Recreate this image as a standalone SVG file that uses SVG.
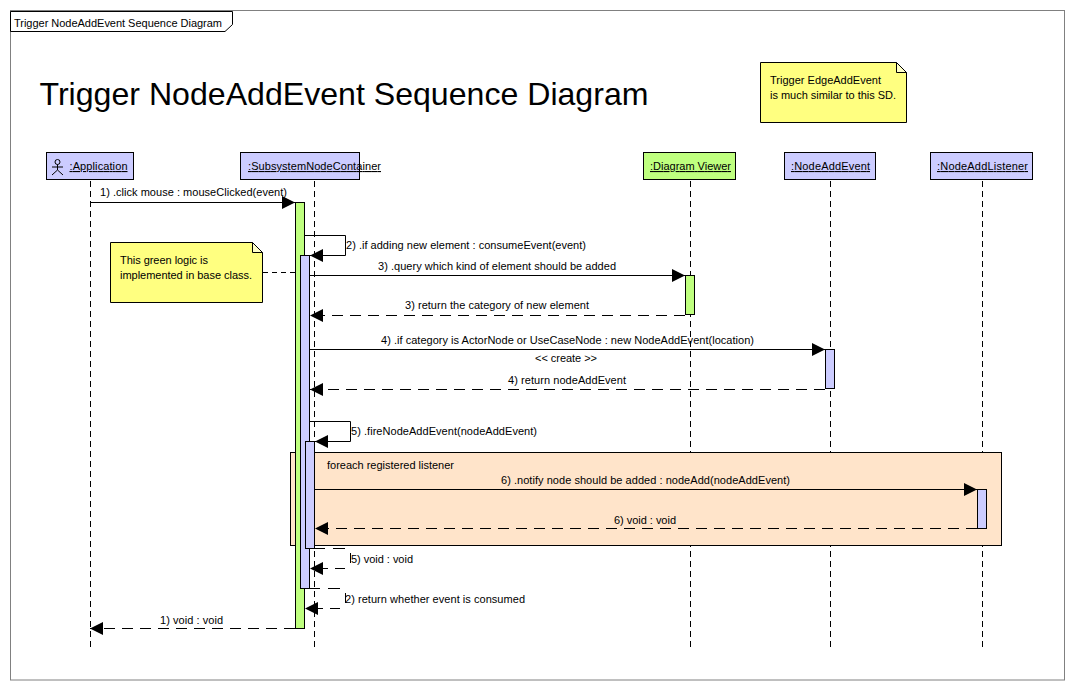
<svg xmlns="http://www.w3.org/2000/svg" width="1074" height="689" viewBox="0 0 1074 689">
<style>
text{font-family:"Liberation Sans",Arial,sans-serif;font-size:11px;fill:#000}
.u{text-decoration:underline}
.box{stroke:#000;stroke-width:1}
.blue{fill:#ccccff}
.green{fill:#bfff7f}
.note{fill:#ffff80;stroke:#000}
.fold{fill:#ffffc8;stroke:#000}
.life{stroke:#000;fill:none;stroke-dasharray:6 4}
.m{stroke:#000;fill:none}
.d{stroke:#000;fill:none;stroke-dasharray:11 7}
.a{fill:#000;stroke:none}
</style>
<defs>
<polygon id="ar" class="a" points="0,0 -13,-6.5 -13,6.5"/>
<polygon id="al" class="a" points="0,0 13,-6.5 13,6.5"/>
</defs>
<rect width="1074" height="689" fill="#fff"/>
<g id="frame">
<rect x="10.5" y="10.5" width="1054" height="669.5" fill="#fff" stroke="#808080"/>
<path d="M10.5 11.5H232.5V24.5L225 31.5H10.5Z" fill="#fff" stroke="#000"/>
<text x="14" y="27" textLength="208">Trigger NodeAddEvent Sequence Diagram</text>
</g>
<text id="title" x="39.5" y="105" style="font-size:32px" textLength="609" lengthAdjust="spacingAndGlyphs">Trigger NodeAddEvent Sequence Diagram</text>
<g id="lifelines">
<path class="life" d="M90.5 181V648"/>
<path class="life" d="M314.5 181V648"/>
<path class="life" d="M690.5 181V648"/>
<path class="life" d="M830.5 181V648"/>
<path class="life" d="M982.5 181V648"/>
</g>
<g id="fragment-foreach">
<rect x="290.5" y="452.5" width="711" height="93" fill="#ffe4ca" stroke="#000"/>
<text x="327" y="469" textLength="127">foreach registered listener</text>
</g>
<g id="activations">
<rect class="box green" x="295.5" y="202.5" width="9" height="426"/>
<rect class="box blue" x="300.5" y="255.5" width="9" height="333"/>
<rect class="box blue" x="305.5" y="441.5" width="9" height="107"/>
<rect class="box green" x="685.5" y="275.5" width="9" height="39"/>
<rect class="box blue" x="825.5" y="349.5" width="9" height="39"/>
<rect class="box blue" x="977.5" y="489.5" width="9" height="39"/>
</g>
<g id="application">
<rect class="box blue" x="46.5" y="152.5" width="87" height="27"/>
<g stroke="#000" fill="none"><circle cx="57.5" cy="162" r="2.5"/><path d="M57.5 164.5V170M52 167H63M57.5 170L52 175M57.5 170L63 175"/></g>
<text class="u" x="69.5" y="170" textLength="58">:Application</text>
</g>
<g id="subsystem-node-container">
<rect class="box blue" x="240.5" y="152.5" width="119" height="27"/>
<text class="u" x="248" y="170" textLength="133">:SubsystemNodeContainer</text>
</g>
<g id="diagram-viewer">
<rect class="box green" x="643.5" y="152.5" width="92" height="27"/>
<text class="u" x="650" y="170" textLength="81">:Diagram Viewer</text>
</g>
<g id="node-add-event">
<rect class="box blue" x="784.5" y="152.5" width="91" height="27"/>
<text class="u" x="791" y="170" textLength="79">:NodeAddEvent</text>
</g>
<g id="node-add-listener">
<rect class="box blue" x="930.5" y="152.5" width="102" height="27"/>
<text class="u" x="937" y="170" textLength="91">:NodeAddListener</text>
</g>
<g id="note-green">
<path class="note" d="M110.5 242.5H252.5L262.5 252.5V302.5H110.5Z"/>
<path class="fold" d="M252.5 242.5L262.5 252.5H252.5Z"/>
<text x="120" y="264" textLength="88">This green logic is</text>
<text x="120" y="279" textLength="132">implemented in base class.</text>
</g>
<g id="note-edge">
<path class="note" d="M760.5 62.5H896.5L906.5 72.5V122.5H760.5Z"/>
<path class="fold" d="M896.5 62.5L906.5 72.5H896.5Z"/>
<text x="770" y="84" textLength="111">Trigger EdgeAddEvent</text>
<text x="770" y="99" textLength="126">is much similar to this SD.</text>
</g>
<g id="connectors">
<path class="m" style="stroke-dasharray:5 4" d="M263 272.5H295"/>
<path class="m" d="M90.5 202.5H295"/><use href="#ar" x="295" y="202.5"/>
<path class="m" d="M305 235.5H345.5V255.5H310"/><use href="#al" x="310" y="255.5"/>
<path class="m" d="M310 275.5H685"/><use href="#ar" x="685" y="275.5"/>
<path class="d" d="M685 315.5H310"/><use href="#al" x="310" y="315.5"/>
<path class="m" d="M310 349.5H825"/><use href="#ar" x="825" y="349.5"/>
<path class="d" d="M825 389.5H310"/><use href="#al" x="310" y="389.5"/>
<path class="m" d="M310 421.5H350.5V441.5H315"/><use href="#al" x="315" y="441.5"/>
<path class="m" d="M315 489.5H977"/><use href="#ar" x="977" y="489.5"/>
<path class="d" d="M977 528.5H315"/><use href="#al" x="315" y="528.5"/>
<path class="m" d="M315 548.5H325M333 548.5H345M350.5 553V563M345 568.5H335M328 568.5H312"/><use href="#al" x="310" y="568.5"/>
<path class="m" d="M310 588.5H320M328 588.5H340M345.5 593V603M340 608.5H330M323 608.5H307"/><use href="#al" x="305" y="608.5"/>
<path class="d" d="M295 628.5H90"/><use href="#al" x="90" y="628.5"/>
</g>
<g id="labels">
<text x="100" y="196" textLength="187">1) .click mouse : mouseClicked(event)</text>
<text x="346" y="249" textLength="240">2) .if adding new element : consumeEvent(event)</text>
<text x="378" y="270" textLength="238">3) .query which kind of element should be added</text>
<text x="405" y="309" textLength="184">3) return the category of new element</text>
<text x="381" y="344" textLength="373">4) .if category is ActorNode or UseCaseNode : new NodeAddEvent(location)</text>
<text x="535" y="362" textLength="62">&lt;&lt; create &gt;&gt;</text>
<text x="508" y="384" textLength="118">4) return nodeAddEvent</text>
<text x="351" y="435" textLength="186">5) .fireNodeAddEvent(nodeAddEvent)</text>
<text x="501" y="484" textLength="289">6) .notify node should be added : nodeAdd(nodeAddEvent)</text>
<text x="614" y="524" textLength="62">6) void : void</text>
<text x="351" y="563" textLength="62">5) void : void</text>
<text x="345" y="603" textLength="180">2) return whether event is consumed</text>
<text x="160" y="624" textLength="63">1) void : void</text>
</g>
</svg>
